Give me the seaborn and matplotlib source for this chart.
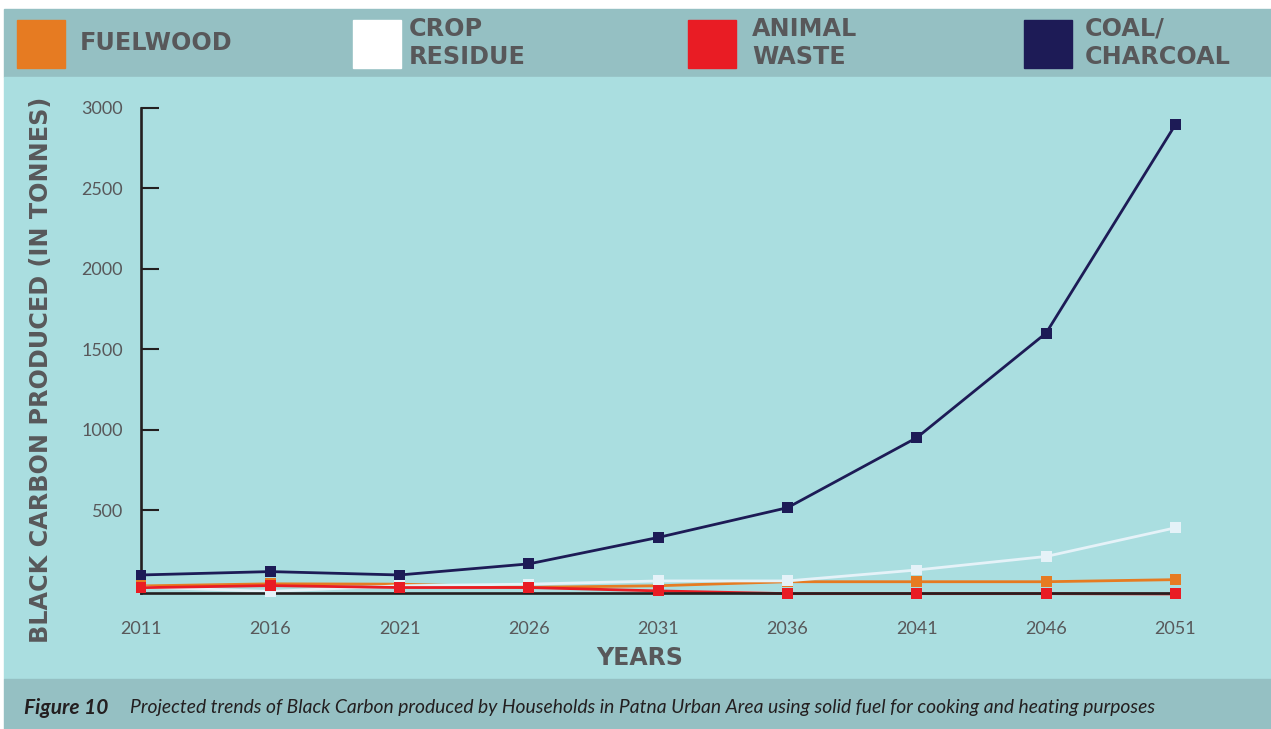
import matplotlib
matplotlib.use("Agg")
import matplotlib.pyplot as plt
from matplotlib.patches import Rectangle
import seaborn as sns
import pandas as pd

# Projected black carbon (tonnes) by fuel type, Patna Urban Area
years = [2011, 2016, 2021, 2026, 2031, 2036, 2041, 2046, 2051]
fuelwood = [29, 42, 40, 20, 30, 55, 55, 55, 68]
crop_residue = [22, -5, 30, 40, 60, 60, 128, 212, 390]
animal_waste = [18, 31, 19, 19, -2, -19, -19, -19, -21]
coal_charcoal = [97, 118, 97, 166, 330, 515, 950, 1600, 2895]

series_names = ["FUELWOOD", "CROP\nRESIDUE", "ANIMAL\nWASTE", "COAL/\nCHARCOAL"]
series_values = [fuelwood, crop_residue, animal_waste, coal_charcoal]
line_colors = ["#e67b22", "#e5f2f8", "#e91c24", "#1d1b56"]
swatch_colors = ["#e67b22", "#ffffff", "#e91c24", "#1d1b56"]
y_ticks = [500, 1000, 1500, 2000, 2500, 3000]

BAND = "#95c0c3"
PANEL = "#aadee0"
TEXT = "#58585a"
FONT = "Lato"
HEAD_FONT = ["DejaVu Sans"]
HEAD_SIZE = 17.2

sns.set_style("white")
plt.rcParams["font.family"] = [FONT, "DejaVu Sans"]

W, H = 1271, 729
fig = plt.figure(figsize=(W / 100, H / 100), dpi=100)
fig.patch.set_facecolor("white")


def fx(px):
    return px / W


def fy(py):
    return 1 - py / H


# background bands
fig.add_artist(Rectangle((fx(4), fy(77)), 1, (77 - 9) / H, transform=fig.transFigure,
                         color=BAND, zorder=0))
fig.add_artist(Rectangle((fx(4), fy(679)), 1, (679 - 77) / H, transform=fig.transFigure,
                         color=PANEL, zorder=0))
fig.add_artist(Rectangle((fx(4), 0), 1, (729 - 679) / H, transform=fig.transFigure,
                         color=BAND, zorder=0))

# long-form data
rows = []
for name, vals in zip(series_names, series_values):
    for yr, v in zip(years, vals):
        rows.append({"year": yr, "value": v, "fuel": name})
df = pd.DataFrame(rows)
palette = dict(zip(series_names, line_colors))

ax_left, ax_right = 141, 1178
ax_bottom, ax_top = 593, 107.7
ax = fig.add_axes([fx(ax_left), fy(ax_bottom), (ax_right - ax_left) / W,
                   (ax_bottom - ax_top) / H])
ax.set_facecolor("none")

sns.lineplot(data=df, x="year", y="value", hue="fuel", hue_order=series_names,
             palette=palette, estimator=None, sort=False, linewidth=2.0,
             legend=False, ax=ax, zorder=2)
for ln in ax.lines:
    ln.set_clip_on(False)
sns.scatterplot(data=df, x="year", y="value", hue="fuel", hue_order=series_names,
                palette=palette, marker="s", s=62, linewidth=0, legend=False,
                ax=ax, zorder=4, clip_on=False)

ax.set_xlim(2011, 2051.1)
ax.set_ylim(-15, 3000)
ax.set_xticks(years)
ax.set_xticklabels([str(y) for y in years])
ax.set_yticks(y_ticks)
ax.set_yticklabels([str(t) for t in y_ticks])

for side in ["top", "right"]:
    ax.spines[side].set_visible(False)
for side in ["left", "bottom"]:
    ax.spines[side].set_color("#231f20")
    ax.spines[side].set_linewidth(1.9)
    ax.spines[side].set_zorder(3)

ax.tick_params(axis="y", left=True, direction="in", length=13, width=1.5,
               color="#231f20", pad=13, labelsize=13, labelcolor=TEXT)
ax.tick_params(axis="x", bottom=False, length=0, pad=20, labelsize=13, labelcolor=TEXT)
ax.set_xlabel("")
ax.set_ylabel("BLACK CARBON PRODUCED (IN TONNES)", fontsize=HEAD_SIZE, fontweight="bold",
              color=TEXT, family=HEAD_FONT)
ax.yaxis.set_label_coords((53 - ax_left) / (ax_right - ax_left),
                          (ax_bottom - 370) / (ax_bottom - ax_top))

fig.text(fx(640), fy(658), "YEARS", ha="center", va="center", fontsize=17,
         fontweight="bold", color=TEXT, family=HEAD_FONT)

# legend strip
swatch_x = [17, 353, 688, 1024]
label_x = [80, 409, 752, 1085]
for name, col, sx, lx in zip(series_names, swatch_colors, swatch_x, label_x):
    fig.add_artist(Rectangle((fx(sx), fy(68)), 48 / W, 48 / H, transform=fig.transFigure,
                             color=col, zorder=1))
    fig.text(fx(lx), fy(43), name, ha="left", va="center", fontsize=HEAD_SIZE,
             fontweight="bold", color=TEXT, linespacing=1.22, family=HEAD_FONT)

# caption
fig.text(fx(24), fy(708), "Figure 10", ha="left", va="center", fontsize=15,
         fontweight="bold", style="italic", color="#231f20")
fig.text(fx(130), fy(708),
         "Projected trends of Black Carbon produced by Households in Patna Urban Area "
         "using solid fuel for cooking and heating purposes",
         ha="left", va="center", fontsize=13.85, style="italic", color="#231f20")

fig.savefig("out.png", dpi=100)
